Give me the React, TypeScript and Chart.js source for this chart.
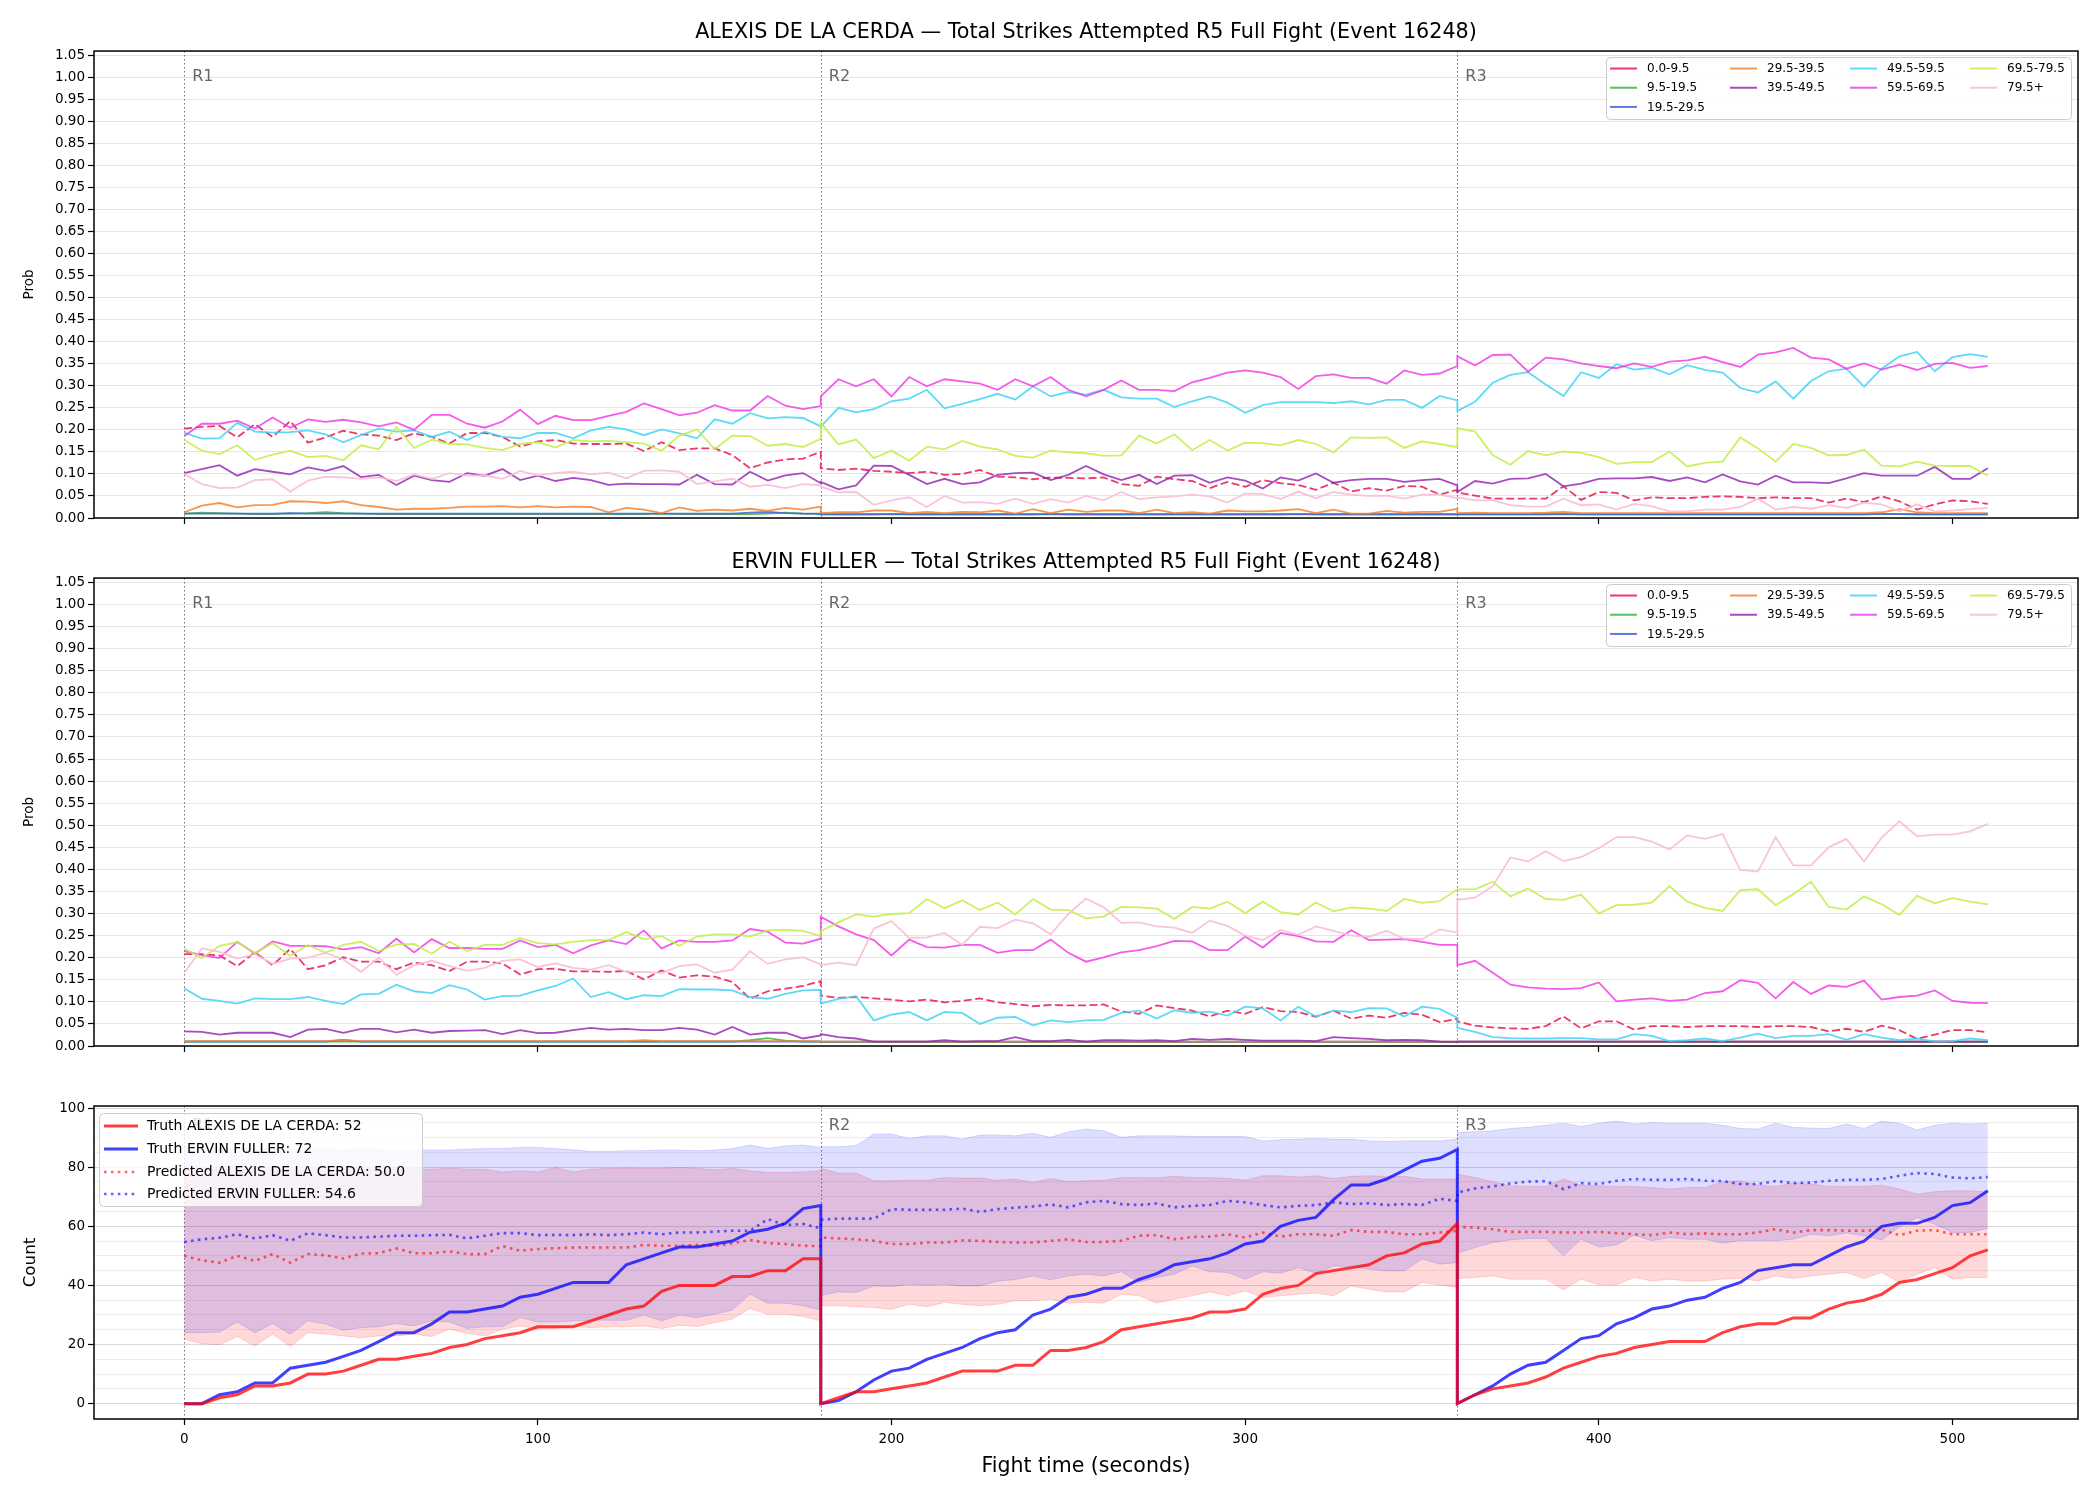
import React, { useEffect, useRef } from 'react';
import { Chart, registerables } from 'chart.js';

Chart.register(...registerables);
Chart.defaults.font.family = "'DejaVu Sans', 'Liberation Sans', sans-serif";
Chart.defaults.color = '#000';

// ---------------- data ----------------
const TIME = [
  0, 5, 10, 15, 20, 25, 30, 35, 40, 45, 50, 55, 60, 65, 70, 75, 80, 85, 90, 95, 100, 105, 110, 115, 120, 125, 130, 135, 140, 145, 150, 155, 160, 165, 170, 175, 180,
  180, 185, 190, 195, 200, 205, 210, 215, 220, 225, 230, 235, 240, 245, 250, 255, 260, 265, 270, 275, 280, 285, 290, 295, 300, 305, 310, 315, 320, 325, 330, 335, 340, 345, 350, 355, 360,
  360, 365, 370, 375, 380, 385, 390, 395, 400, 405, 410, 415, 420, 425, 430, 435, 440, 445, 450, 455, 460, 465, 470, 475, 480, 485, 490, 495, 500, 505, 510,
];

const FIGHTER_A = 'ALEXIS DE LA CERDA';
const FIGHTER_B = 'ERVIN FULLER';
const EVENT_ID = 16248;
const ROUND_STARTS = [0, 180, 360];
const ROUND_LABELS = ['R1', 'R2', 'R3'];

const BIN_LABELS = ['0.0-9.5', '9.5-19.5', '19.5-29.5', '29.5-39.5', '39.5-49.5', '49.5-59.5', '59.5-69.5', '69.5-79.5', '79.5+'];
const BIN_COLORS = [
  'rgba(230,25,75,0.85)', 'rgba(60,180,75,0.85)', 'rgba(67,99,216,0.85)', 'rgba(245,130,49,0.85)',
  'rgba(145,30,180,0.8)', 'rgba(66,212,244,0.85)', 'rgba(240,50,230,0.8)', 'rgba(191,239,69,0.85)', 'rgba(250,190,212,0.9)',
];

// ALEXIS probabilities per bin
const ALEXIS_B0 = [
  .203, .207, .209, .183, .213, .184, .220, .171, .183, .198, .190, .187, .177, .192, .184, .169, .193, .193, .184, .162, .174, .177, .169, .168, .168, .169, .152, .172, .154, .158, .158, .143, .113, .126, .133, .135, .150,
  .113, .109, .112, .107, .105, .102, .105, .098, .100, .109, .094, .092, .088, .092, .091, .090, .092, .077, .073, .094, .088, .084, .068, .082, .071, .086, .079, .075, .064, .080, .060, .068, .062, .073, .071, .053, .064,
  .058, .051, .044, .044, .044, .044, .072, .041, .059, .057, .040, .047, .045, .045, .048, .049, .048, .045, .047, .045, .045, .035, .044, .036, .049, .038, .019, .031, .040, .038, .032,
];
const ALEXIS_B1 = [
  .010, .012, .011, .010, .009, .009, .010, .011, .013, .011, .010, .009, .009, .009, .009, .009, .009, .009, .009, .009, .009, .009, .009, .009, .009, .009, .009, .010, .009, .009, .009, .009, .009, .010, .012, .010, .009,
  .008, .008, .008, .008, .009, .008, .008, .008, .008, .008, .008, .008, .008, .009, .008, .008, .008, .008, .008, .008, .008, .008, .008, .008, .008, .008, .008, .009, .008, .008, .008, .008, .008, .008, .008, .008, .008,
  .008, .008, .008, .008, .008, .008, .009, .008, .008, .008, .008, .008, .008, .008, .008, .008, .008, .008, .008, .008, .008, .008, .008, .008, .010, .009, .008, .008, .008, .008, .008,
];
const ALEXIS_B2 = [
  .010, .010, .010, .010, .010, .010, .011, .010, .010, .010, .010, .010, .010, .010, .010, .010, .010, .010, .010, .010, .010, .010, .010, .010, .010, .010, .010, .010, .010, .010, .010, .010, .012, .014, .011, .010, .010,
  .009, .009, .009, .009, .009, .009, .009, .009, .009, .009, .009, .009, .009, .009, .009, .009, .009, .009, .009, .009, .009, .009, .009, .009, .009, .009, .009, .009, .009, .009, .009, .009, .009, .009, .009, .009, .009,
  .009, .009, .009, .009, .009, .009, .009, .009, .009, .009, .009, .009, .009, .009, .009, .009, .009, .009, .009, .009, .009, .009, .009, .009, .009, .009, .009, .009, .009, .009, .009,
];
const ALEXIS_B3 = [
  .013, .028, .034, .024, .029, .030, .038, .037, .034, .038, .029, .025, .019, .021, .021, .023, .026, .026, .027, .024, .027, .024, .026, .025, .013, .023, .019, .011, .024, .016, .019, .017, .021, .016, .023, .019, .026,
  .011, .013, .013, .017, .017, .011, .014, .011, .014, .013, .017, .010, .020, .011, .019, .014, .017, .017, .011, .019, .011, .013, .010, .017, .015, .015, .017, .020, .011, .019, .010, .010, .016, .012, .014, .014, .021,
  .011, .012, .011, .011, .011, .012, .014, .011, .011, .011, .011, .011, .011, .011, .011, .011, .011, .011, .011, .011, .011, .011, .011, .011, .013, .020, .013, .011, .011, .011, .011,
];
const ALEXIS_B4 = [
  .102, .111, .120, .096, .111, .105, .099, .115, .107, .118, .093, .098, .075, .096, .086, .082, .102, .096, .111, .086, .096, .084, .091, .086, .075, .078, .077, .077, .076, .098, .077, .076, .105, .085, .097, .102, .079,
  .082, .065, .074, .119, .118, .098, .077, .089, .077, .081, .098, .102, .103, .086, .098, .118, .099, .086, .098, .077, .096, .097, .080, .092, .085, .067, .092, .085, .101, .080, .086, .089, .089, .082, .086, .089, .074,
  .059, .084, .078, .089, .090, .100, .072, .078, .089, .090, .090, .093, .084, .092, .081, .099, .083, .076, .096, .081, .081, .079, .090, .102, .096, .096, .096, .116, .089, .089, .113,
];
const ALEXIS_B5 = [
  .193, .180, .181, .216, .196, .194, .195, .199, .190, .172, .188, .203, .196, .199, .184, .196, .177, .196, .184, .181, .193, .193, .181, .199, .207, .201, .188, .201, .192, .181, .224, .214, .238, .226, .229, .227, .208,
  .207, .250, .240, .247, .265, .271, .291, .249, .259, .270, .282, .269, .299, .276, .286, .280, .291, .274, .271, .271, .252, .265, .276, .262, .239, .256, .263, .263, .263, .261, .265, .258, .268, .268, .250, .277, .267,
  .243, .264, .307, .325, .331, .303, .277, .331, .318, .349, .337, .341, .326, .347, .336, .330, .295, .285, .310, .271, .311, .333, .339, .298, .339, .367, .377, .333, .365, .372, .366,
];
const ALEXIS_B6 = [
  .186, .214, .214, .221, .203, .228, .205, .224, .218, .223, .217, .208, .217, .200, .234, .234, .214, .205, .219, .246, .213, .232, .222, .222, .232, .241, .260, .247, .233, .239, .256, .244, .244, .277, .255, .247, .254,
  .276, .315, .299, .315, .276, .320, .299, .315, .310, .305, .291, .315, .299, .320, .291, .276, .291, .312, .291, .291, .288, .308, .318, .330, .335, .330, .320, .293, .322, .326, .318, .318, .305, .335, .325, .328, .345,
  .367, .346, .370, .371, .332, .364, .360, .351, .345, .340, .351, .343, .355, .358, .366, .354, .343, .371, .376, .386, .364, .360, .339, .351, .337, .348, .336, .350, .352, .341, .345,
];
const ALEXIS_B7 = [
  .177, .153, .145, .165, .132, .144, .153, .138, .141, .131, .165, .156, .207, .159, .178, .168, .167, .159, .154, .168, .172, .160, .177, .174, .175, .172, .169, .153, .187, .201, .156, .187, .186, .164, .168, .161, .180,
  .216, .167, .178, .136, .153, .130, .162, .156, .175, .162, .156, .141, .137, .153, .149, .147, .141, .142, .187, .169, .190, .154, .177, .153, .171, .170, .165, .177, .168, .149, .183, .182, .183, .159, .174, .168, .161,
  .204, .196, .143, .121, .152, .142, .151, .148, .138, .123, .127, .127, .151, .117, .125, .128, .183, .158, .128, .168, .159, .142, .143, .155, .119, .117, .128, .119, .118, .118, .096,
];
const ALEXIS_B8 = [
  .100, .077, .068, .069, .086, .088, .060, .085, .094, .092, .089, .092, .084, .099, .089, .102, .096, .097, .089, .107, .097, .102, .105, .099, .103, .090, .107, .108, .105, .077, .083, .089, .071, .075, .068, .077, .074,
  .071, .058, .059, .030, .040, .047, .025, .050, .035, .036, .032, .044, .032, .043, .035, .050, .040, .059, .043, .047, .049, .053, .049, .035, .056, .054, .043, .060, .045, .059, .053, .050, .051, .044, .053, .053, .045,
  .047, .040, .040, .029, .026, .026, .044, .029, .031, .019, .032, .027, .015, .015, .019, .019, .025, .044, .019, .025, .021, .029, .023, .035, .031, .015, .031, .015, .017, .020, .023,
];

// ERVIN probabilities per bin
const ERVIN_B0 = [
  .208, .208, .205, .181, .212, .183, .220, .174, .183, .201, .191, .191, .174, .189, .183, .170, .191, .191, .187, .162, .174, .175, .169, .169, .168, .170, .151, .171, .155, .160, .157, .145, .107, .124, .130, .136, .147,
  .114, .109, .111, .108, .105, .101, .105, .099, .102, .108, .099, .095, .090, .093, .092, .092, .094, .078, .073, .092, .086, .080, .067, .080, .073, .088, .079, .077, .066, .080, .062, .069, .064, .075, .071, .054, .062,
  .056, .046, .042, .040, .039, .045, .067, .040, .056, .056, .037, .045, .045, .043, .045, .045, .045, .043, .045, .045, .043, .033, .039, .032, .046, .036, .016, .026, .036, .036, .031,
];
const ERVIN_B1 = [
  .010, .010, .010, .010, .010, .010, .010, .010, .010, .010, .010, .010, .010, .010, .010, .010, .010, .010, .010, .010, .010, .010, .010, .010, .010, .010, .010, .010, .010, .010, .010, .010, .013, .018, .012, .010, .010,
  .009, .009, .009, .009, .009, .009, .009, .009, .009, .009, .009, .009, .009, .009, .009, .009, .009, .009, .009, .009, .009, .009, .009, .009, .009, .009, .009, .009, .009, .009, .009, .009, .009, .009, .009, .009, .009,
  .009, .009, .009, .009, .009, .009, .009, .009, .009, .009, .009, .009, .009, .009, .009, .009, .009, .009, .009, .009, .009, .009, .009, .009, .009, .009, .009, .009, .009, .009, .009,
];
const ERVIN_B2 = [
  .010, .010, .010, .010, .010, .010, .010, .010, .010, .014, .010, .010, .010, .010, .010, .010, .010, .010, .010, .010, .010, .010, .010, .010, .010, .010, .010, .010, .010, .010, .010, .010, .010, .010, .010, .010, .010,
  .010, .010, .010, .010, .010, .010, .010, .010, .010, .010, .010, .010, .010, .010, .010, .010, .010, .010, .010, .010, .010, .010, .010, .010, .010, .010, .010, .010, .010, .010, .010, .010, .010, .010, .010, .010, .010,
  .010, .010, .010, .010, .010, .010, .010, .010, .010, .010, .010, .010, .010, .010, .010, .010, .010, .010, .010, .010, .010, .010, .010, .010, .010, .010, .010, .010, .010, .010, .010,
];
const ERVIN_B3 = [
  .011, .011, .011, .011, .011, .011, .011, .011, .011, .014, .011, .011, .011, .011, .011, .011, .011, .011, .011, .011, .011, .011, .011, .011, .011, .011, .013, .011, .011, .011, .011, .011, .011, .011, .011, .011, .011,
  .010, .010, .010, .010, .010, .010, .010, .010, .010, .010, .010, .010, .010, .010, .010, .010, .010, .010, .010, .010, .010, .010, .010, .010, .010, .010, .010, .010, .010, .010, .010, .010, .010, .010, .010, .010, .010,
  .010, .010, .010, .010, .010, .010, .010, .010, .010, .010, .010, .010, .010, .010, .010, .010, .010, .010, .010, .010, .010, .010, .010, .010, .010, .010, .010, .010, .010, .010, .010,
];
const ERVIN_B4 = [
  .033, .032, .026, .030, .030, .030, .020, .037, .039, .030, .039, .039, .031, .037, .030, .034, .035, .036, .027, .036, .029, .030, .036, .041, .037, .039, .036, .036, .041, .037, .026, .043, .026, .030, .030, .017, .024,
  .027, .020, .017, .010, .010, .010, .010, .013, .010, .011, .011, .020, .011, .011, .014, .010, .013, .013, .012, .013, .011, .016, .014, .016, .014, .012, .012, .012, .011, .020, .018, .016, .013, .014, .013, .010, .009,
  .010, .010, .010, .010, .010, .010, .010, .010, .010, .010, .010, .010, .010, .010, .010, .010, .010, .010, .010, .010, .010, .010, .010, .010, .010, .010, .010, .010, .010, .010, .010,
];
const ERVIN_B5 = [
  .131, .107, .102, .096, .108, .106, .106, .111, .102, .095, .117, .118, .139, .124, .120, .138, .128, .105, .113, .114, .126, .136, .153, .111, .122, .106, .115, .113, .129, .128, .128, .126, .111, .107, .118, .126, .127,
  .096, .107, .113, .058, .071, .077, .058, .077, .075, .050, .064, .066, .047, .058, .054, .058, .059, .075, .080, .062, .081, .075, .078, .069, .089, .085, .058, .089, .067, .080, .077, .086, .085, .067, .089, .084, .064,
  .041, .032, .020, .018, .017, .017, .018, .018, .015, .015, .027, .023, .011, .013, .017, .011, .019, .028, .018, .023, .023, .027, .014, .027, .019, .013, .017, .010, .011, .017, .013,
];
const ERVIN_B6 = [
  .215, .206, .199, .236, .209, .237, .227, .227, .226, .219, .224, .210, .243, .212, .242, .222, .222, .220, .220, .239, .224, .229, .210, .228, .239, .231, .262, .221, .239, .236, .236, .239, .265, .259, .234, .232, .243,
  .293, .271, .253, .240, .205, .241, .224, .223, .229, .229, .211, .217, .217, .241, .211, .191, .201, .212, .217, .226, .238, .237, .217, .217, .248, .223, .256, .249, .237, .236, .262, .240, .241, .242, .236, .229, .229,
  .183, .193, .166, .139, .133, .130, .129, .131, .144, .101, .105, .108, .102, .105, .120, .124, .149, .143, .108, .145, .118, .137, .134, .148, .105, .111, .114, .126, .102, .098, .097,
];
const ERVIN_B7 = [
  .221, .199, .227, .235, .211, .233, .204, .229, .211, .229, .236, .215, .230, .231, .209, .236, .215, .229, .229, .245, .233, .230, .236, .240, .240, .258, .242, .249, .227, .248, .253, .253, .248, .262, .263, .261, .249,
  .260, .280, .298, .293, .299, .301, .333, .312, .330, .308, .325, .298, .333, .309, .308, .289, .293, .315, .314, .311, .288, .315, .311, .327, .301, .327, .303, .298, .325, .305, .314, .311, .306, .333, .324, .328, .355,
  .355, .355, .372, .339, .357, .333, .331, .343, .300, .319, .320, .325, .362, .327, .313, .306, .353, .355, .319, .344, .372, .315, .309, .339, .321, .297, .340, .323, .335, .327, .321,
];
const ERVIN_B8 = [
  .166, .221, .213, .198, .208, .186, .198, .200, .211, .196, .168, .200, .161, .183, .193, .181, .170, .177, .193, .196, .179, .187, .177, .173, .183, .168, .168, .165, .181, .185, .166, .173, .215, .186, .196, .201, .185,
  .183, .189, .183, .266, .283, .245, .246, .256, .229, .270, .267, .286, .278, .253, .299, .334, .314, .279, .280, .271, .268, .256, .284, .272, .250, .240, .263, .252, .271, .261, .250, .247, .261, .243, .242, .264, .257,
  .331, .336, .362, .427, .418, .441, .419, .428, .448, .473, .473, .463, .445, .477, .469, .480, .399, .395, .473, .409, .409, .450, .469, .418, .472, .509, .475, .479, .479, .486, .503,
];

// counts
const TRUTH_ALEXIS = [
  0, 0, 2, 3, 6, 6, 7, 10, 10, 11, 13, 15, 15, 16, 17, 19, 20, 22, 23, 24, 26, 26, 26, 28, 30, 32, 33, 38, 40, 40, 40, 43, 43, 45, 45, 49, 49,
  0, 2, 4, 4, 5, 6, 7, 9, 11, 11, 11, 13, 13, 18, 18, 19, 21, 25, 26, 27, 28, 29, 31, 31, 32, 37, 39, 40, 44, 45, 46, 47, 50, 51, 54, 55, 61,
  0, 3, 5, 6, 7, 9, 12, 14, 16, 17, 19, 20, 21, 21, 21, 24, 26, 27, 27, 29, 29, 32, 34, 35, 37, 41, 42, 44, 46, 50, 52,
];
const TRUTH_ERVIN = [
  0, 0, 3, 4, 7, 7, 12, 13, 14, 16, 18, 21, 24, 24, 27, 31, 31, 32, 33, 36, 37, 39, 41, 41, 41, 47, 49, 51, 53, 53, 54, 55, 58, 59, 61, 66, 67,
  0, 1, 4, 8, 11, 12, 15, 17, 19, 22, 24, 25, 30, 32, 36, 37, 39, 39, 42, 44, 47, 48, 49, 51, 54, 55, 60, 62, 63, 69, 74, 74, 76, 79, 82, 83, 86,
  0, 3, 6, 10, 13, 14, 18, 22, 23, 27, 29, 32, 33, 35, 36, 39, 41, 45, 46, 47, 47, 50, 53, 55, 60, 61, 61, 63, 67, 68, 72,
];
const PRED_ALEXIS = [
  50.0, 48.5, 47.7, 50.0, 48.3, 50.6, 47.7, 50.6, 50.2, 49.1, 50.8, 50.9, 52.5, 50.9, 50.9, 51.5, 50.6, 50.6, 53.3, 51.7, 52.3, 52.6, 52.8, 52.8, 52.8, 52.8, 53.7, 53.4, 53.4, 53.7, 53.4, 54.2, 55.4, 54.3, 54.0, 53.4, 53.3,
  56.2, 55.9, 55.6, 55.1, 54.0, 54.0, 54.5, 54.5, 55.2, 55.1, 54.7, 54.5, 54.5, 55.1, 55.6, 54.7, 54.7, 55.1, 56.8, 57.0, 55.6, 56.4, 56.5, 57.3, 56.2, 57.9, 56.5, 57.3, 57.3, 56.8, 58.7, 58.1, 58.1, 57.3, 57.3, 57.9, 58.5,
  59.8, 59.6, 59.0, 58.1, 58.1, 58.1, 57.9, 57.9, 58.1, 57.7, 57.3, 57.0, 57.9, 57.3, 57.6, 57.3, 57.3, 57.9, 59.0, 57.9, 58.7, 58.7, 58.5, 58.5, 58.8, 57.0, 58.5, 58.7, 57.3, 57.3, 57.3,
];
const PRED_ERVIN = [
  54.7, 55.6, 56.1, 57.3, 55.9, 57.0, 55.1, 57.6, 57.0, 56.2, 56.2, 56.5, 56.8, 56.8, 57.0, 57.1, 55.9, 56.8, 57.7, 57.7, 57.0, 57.1, 57.0, 57.3, 57.0, 57.3, 57.9, 57.3, 57.9, 57.9, 58.2, 58.5, 58.5, 62.4, 60.4, 60.8, 59.3,
  62.2, 62.6, 62.6, 62.6, 65.8, 65.6, 65.6, 65.6, 66.0, 64.9, 65.8, 66.3, 66.7, 67.4, 66.4, 68.1, 68.6, 67.5, 67.2, 67.7, 66.4, 66.9, 67.2, 68.6, 68.1, 67.2, 66.4, 66.9, 67.2, 68.1, 67.5, 67.8, 67.2, 67.5, 67.2, 69.3, 68.6,
  71.4, 72.8, 73.5, 74.5, 75.1, 75.3, 72.6, 74.6, 74.3, 75.4, 76.0, 75.7, 75.7, 76.0, 75.4, 75.3, 74.3, 74.3, 75.3, 74.6, 74.8, 75.4, 75.7, 75.7, 76.0, 77.1, 78.0, 77.7, 76.5, 76.2, 76.7,
];
const ERVIN_HI = [
  87.2, 87.0, 86.6, 86.4, 86.1, 86.1, 86.3, 86.0, 86.1, 85.8, 86.1, 85.9, 85.6, 85.8, 85.8, 85.8, 86.1, 86.3, 86.3, 86.7, 86.7, 86.3, 85.9, 85.3, 85.3, 85.6, 85.6, 85.8, 85.8, 85.6, 85.8, 86.3, 87.5, 86.3, 87.2, 87.5, 86.7,
  86.9, 86.9, 87.3, 91.2, 91.2, 89.7, 90.6, 90.6, 89.5, 90.9, 90.9, 90.6, 91.5, 90.1, 92.0, 92.9, 92.3, 90.1, 90.6, 90.6, 90.6, 90.4, 90.4, 90.4, 90.4, 88.9, 89.3, 89.5, 89.7, 89.5, 89.5, 88.9, 88.7, 88.9, 88.9, 88.9, 89.5,
  91.8, 92.0, 92.3, 93.1, 93.5, 94.2, 94.9, 93.8, 94.9, 95.6, 94.6, 95.1, 94.9, 94.9, 94.9, 94.2, 93.1, 92.9, 94.9, 93.5, 93.2, 93.1, 94.6, 93.1, 95.6, 94.9, 92.6, 94.2, 94.9, 94.6, 94.9,
];
const ERVIN_LO = [
  24.0, 24.0, 24.2, 27.6, 24.0, 27.1, 23.5, 28.0, 26.9, 24.8, 25.7, 26.0, 27.1, 26.3, 28.0, 27.6, 25.4, 26.0, 26.0, 29.1, 27.6, 27.6, 28.0, 28.2, 28.2, 28.2, 29.9, 28.0, 29.9, 29.1, 30.2, 31.7, 37.0, 34.0, 34.0, 33.1, 31.7,
  36.5, 37.8, 37.6, 39.8, 39.6, 40.4, 40.1, 40.4, 39.8, 39.8, 41.4, 42.0, 43.2, 41.9, 43.2, 43.8, 43.2, 44.6, 41.0, 42.7, 43.8, 46.6, 44.6, 44.4, 42.1, 44.6, 44.1, 46.0, 44.1, 46.6, 46.3, 45.5, 44.9, 44.9, 48.9, 47.2, 47.7,
  50.9, 52.8, 54.5, 55.4, 55.9, 55.9, 50.0, 55.6, 53.0, 53.7, 57.0, 55.1, 56.2, 55.6, 55.6, 54.3, 55.1, 55.1, 55.1, 55.6, 57.3, 56.8, 57.7, 56.8, 55.4, 59.8, 63.0, 60.7, 57.9, 57.9, 59.3,
];
const ALEXIS_HI = [
  79.1, 79.3, 79.3, 79.1, 79.1, 79.3, 79.3, 79.3, 79.3, 79.3, 79.3, 79.6, 79.9, 79.3, 79.3, 79.7, 79.3, 79.3, 78.4, 78.8, 78.4, 79.9, 78.4, 79.3, 79.6, 79.7, 79.6, 79.6, 79.9, 79.6, 79.1, 79.6, 78.8, 78.2, 78.2, 78.4, 78.8,
  79.6, 78.0, 78.0, 75.4, 75.4, 75.6, 75.6, 76.5, 76.3, 76.3, 75.6, 76.0, 74.8, 76.2, 75.1, 75.4, 75.6, 76.5, 76.5, 76.4, 76.9, 76.5, 76.5, 76.2, 75.6, 77.1, 77.1, 76.7, 77.1, 76.2, 76.9, 77.1, 76.9, 76.9, 76.0, 76.0, 76.0,
  77.7, 76.5, 75.1, 73.7, 73.5, 73.5, 76.0, 73.9, 73.7, 73.5, 73.5, 73.1, 72.6, 73.1, 73.1, 75.1, 75.4, 73.9, 73.5, 74.6, 74.3, 73.5, 73.5, 73.5, 73.9, 72.6, 70.9, 71.7, 72.0, 72.0, 71.7,
];
const ALEXIS_LO = [
  21.8, 20.3, 19.9, 22.7, 19.5, 23.5, 19.3, 24.0, 23.5, 22.9, 22.3, 22.9, 22.9, 23.5, 22.7, 25.2, 23.8, 22.9, 25.2, 26.3, 25.2, 25.4, 26.1, 25.7, 26.0, 26.0, 26.3, 25.4, 26.5, 26.1, 27.4, 28.6, 32.2, 30.2, 30.2, 29.5, 28.0,
  33.1, 33.1, 32.8, 32.5, 31.9, 33.6, 32.8, 34.2, 33.6, 33.1, 33.6, 34.8, 34.8, 35.3, 34.0, 34.2, 34.0, 37.0, 36.5, 34.0, 35.3, 36.5, 37.8, 36.5, 38.1, 35.9, 36.5, 37.0, 37.4, 36.5, 39.8, 38.7, 37.8, 37.8, 41.0, 40.1, 39.3,
  42.3, 42.7, 43.2, 42.1, 42.1, 42.1, 38.5, 42.1, 40.2, 40.1, 42.7, 41.5, 42.1, 41.5, 41.5, 42.1, 42.3, 41.5, 43.2, 42.3, 43.2, 43.8, 44.4, 42.3, 44.4, 41.0, 43.8, 46.0, 42.1, 42.7, 42.7,
];

const COUNT_LEGEND = [
  `Truth ${FIGHTER_A}: 52`,
  `Truth ${FIGHTER_B}: 72`,
  `Predicted ${FIGHTER_A}: 50.0`,
  `Predicted ${FIGHTER_B}: 54.6`,
];

const ALEXIS_BINS = [ALEXIS_B0, ALEXIS_B1, ALEXIS_B2, ALEXIS_B3, ALEXIS_B4, ALEXIS_B5, ALEXIS_B6, ALEXIS_B7, ALEXIS_B8];
const ERVIN_BINS = [ERVIN_B0, ERVIN_B1, ERVIN_B2, ERVIN_B3, ERVIN_B4, ERVIN_B5, ERVIN_B6, ERVIN_B7, ERVIN_B8];

// ---------------- helpers ----------------
const pts = (arr: number[]) => TIME.map((t, i) => ({ x: t, y: arr[i] }));

const TICK_FONT = { size: 13.5 };

function roundRectPath(ctx: any, x: number, y: number, w: number, h: number, r: number) {
  ctx.beginPath();
  ctx.moveTo(x + r, y);
  ctx.lineTo(x + w - r, y);
  ctx.arcTo(x + w, y, x + w, y + r, r);
  ctx.lineTo(x + w, y + h - r);
  ctx.arcTo(x + w, y + h, x + w - r, y + h, r);
  ctx.lineTo(x + r, y + h);
  ctx.arcTo(x, y + h, x, y + h - r, r);
  ctx.lineTo(x, y + r);
  ctx.arcTo(x, y, x + r, y, r);
  ctx.closePath();
}

function framePlugin() {
  return {
    id: 'frame',
    afterDatasetsDraw(chart: any) {
      const { ctx, chartArea: a } = chart;
      ctx.save();
      ctx.strokeStyle = '#000';
      ctx.lineWidth = 1.5;
      ctx.strokeRect(a.left, a.top, a.right - a.left, a.bottom - a.top);
      ctx.restore();
    },
  };
}

function roundPlugin(labelDy: number) {
  return {
    id: 'roundMarks',
    beforeDatasetsDraw(chart: any) {
      const { ctx, chartArea: a, scales } = chart;
      ctx.save();
      ctx.strokeStyle = 'rgba(70,70,70,0.75)';
      ctx.lineWidth = 1;
      ctx.setLineDash([1.5, 2.5]);
      ROUND_STARTS.forEach((t) => {
        const px = Math.round(scales.x.getPixelForValue(t)) + 0.5;
        ctx.beginPath();
        ctx.moveTo(px, a.top);
        ctx.lineTo(px, a.bottom);
        ctx.stroke();
      });
      ctx.restore();
    },
    afterDatasetsDraw(chart: any) {
      const { ctx, chartArea: a, scales } = chart;
      ctx.save();
      ctx.fillStyle = 'rgba(85,85,85,0.9)';
      ctx.font = "16px 'DejaVu Sans'";
      ctx.textBaseline = 'middle';
      ctx.textAlign = 'left';
      ROUND_STARTS.forEach((t, i) => {
        const px = scales.x.getPixelForValue(t);
        ctx.fillText(ROUND_LABELS[i], px + 8, a.top + labelDy);
      });
      ctx.restore();
    },
  };
}

function placeColumnMajor(n: number, ncol: number) {
  const nrow = Math.ceil(n / ncol);
  const extra = n % ncol === 0 ? ncol : n % ncol;
  const out: number[][] = [];
  let c = 0;
  let r = 0;
  for (let k = 0; k < n; k++) {
    out.push([c, r]);
    r++;
    const rowsInCol = c < extra ? nrow : nrow - 1;
    if (r >= rowsInCol) {
      r = 0;
      c++;
    }
  }
  return out;
}

function legendPlugin(cfg: any) {
  return {
    id: 'boxLegend',
    afterDraw(chart: any) {
      const { ctx, chartArea: a } = chart;
      const left = cfg.anchorRight ? a.right - cfg.inset[0] - cfg.w : a.left + cfg.inset[0];
      const top = a.top + cfg.inset[1];
      ctx.save();
      roundRectPath(ctx, left + 0.5, top + 0.5, cfg.w, cfg.h, 4);
      ctx.fillStyle = 'rgba(255,255,255,0.8)';
      ctx.fill();
      ctx.strokeStyle = '#cccccc';
      ctx.lineWidth = 1;
      ctx.stroke();
      ctx.font = `${cfg.fontSize}px 'DejaVu Sans'`;
      ctx.textBaseline = 'middle';
      ctx.textAlign = 'left';
      const place = placeColumnMajor(cfg.items.length, cfg.ncol);
      cfg.items.forEach((it: any, k: number) => {
        const [c, r] = place[k];
        const lx = left + cfg.colX[c];
        const y = top + cfg.rowY[r];
        ctx.beginPath();
        ctx.setLineDash(it.dash || []);
        ctx.lineWidth = it.width;
        ctx.strokeStyle = it.color;
        ctx.moveTo(lx, y);
        ctx.lineTo(lx + cfg.lineLen, y);
        ctx.stroke();
        ctx.setLineDash([]);
        ctx.fillStyle = '#000';
        ctx.fillText(it.label, lx + cfg.textDx, y + 0.5);
      });
      ctx.restore();
    },
  };
}

function xScale(showLabels: boolean, height: number) {
  return {
    type: 'linear',
    min: -25.5,
    max: 535.5,
    ticks: { display: showLabels, stepSize: 100, includeBounds: false, autoSkip: false, maxRotation: 0, font: TICK_FONT, color: '#000', padding: 6 },
    grid: { drawOnChartArea: false, drawTicks: true, tickLength: 6, tickColor: '#000', tickWidth: 1.2 },
    border: { display: false },
    title: showLabels
      ? { display: true, text: 'Fight time (seconds)', font: { size: 20.5 }, color: '#000', padding: { top: 0, bottom: 21.5 } }
      : { display: false },
    afterFit: (s: any) => {
      s.height = height;
    },
  };
}

function probConfig(fighter: string, bins: number[][], titlePad: { top: number; bottom: number }, xAxisH: number) {
  const datasets = BIN_LABELS.map((lab, i) => ({
    label: lab,
    data: pts(bins[i]),
    borderColor: BIN_COLORS[i],
    backgroundColor: BIN_COLORS[i],
    borderWidth: 1.8,
    borderDash: i === 0 ? [8, 3.5] : [],
    pointRadius: 0,
    pointHoverRadius: 0,
    fill: false,
    tension: 0,
    order: 20 - i,
  }));
  const legendItems = BIN_LABELS.map((lab, i) => ({ label: lab, color: BIN_COLORS[i], width: 2 }));
  return {
    type: 'line',
    data: { datasets },
    options: {
      responsive: false,
      animation: false,
      events: [],
      layout: { padding: { left: 0, right: 22, top: 0, bottom: 0 } },
      plugins: {
        legend: { display: false },
        tooltip: { enabled: false },
        title: {
          display: true,
          fullSize: false,
          text: `${fighter} — Total Strikes Attempted R5 Full Fight (Event ${EVENT_ID})`,
          font: { size: 20.7, weight: 'normal' },
          color: '#000',
          padding: titlePad,
        },
      },
      scales: {
        x: xScale(false, xAxisH),
        y: {
          min: 0,
          max: 1.06,
          ticks: { stepSize: 0.05, includeBounds: false, autoSkip: false, font: TICK_FONT, color: '#000', padding: 3, callback: (v: any) => Number(v).toFixed(2) },
          grid: { color: 'rgba(0,0,0,0.1)', lineWidth: 1, tickColor: '#000', tickLength: 6, tickWidth: 1.2 },
          border: { display: false },
          title: { display: true, text: 'Prob', font: { size: 13.5 }, color: '#000', padding: { top: 21, bottom: 0 } },
          afterFit: (s: any) => {
            s.width = 94;
          },
        },
      },
    },
    plugins: [
      roundPlugin(25.5),
      framePlugin(),
      legendPlugin({
        anchorRight: true,
        inset: [7, 6],
        w: 465,
        h: 62,
        ncol: 4,
        colX: [4, 124, 244, 364],
        rowY: [11.5, 30.7, 49.9],
        lineLen: 27,
        textDx: 37,
        fontSize: 12,
        items: legendItems,
      }),
    ],
  };
}

function countConfig() {
  const redLine = 'rgba(255,0,0,0.75)';
  const blueLine = 'rgba(0,0,255,0.75)';
  const redDot = 'rgba(255,0,0,0.6)';
  const blueDot = 'rgba(0,0,255,0.6)';
  const base = { pointRadius: 0, pointHoverRadius: 0, tension: 0 };
  const datasets: any[] = [
    { ...base, label: COUNT_LEGEND[0], data: pts(TRUTH_ALEXIS), borderColor: redLine, borderWidth: 3, fill: false },
    { ...base, label: COUNT_LEGEND[1], data: pts(TRUTH_ERVIN), borderColor: blueLine, borderWidth: 3, fill: false },
    { ...base, label: COUNT_LEGEND[2], data: pts(PRED_ALEXIS), borderColor: redDot, borderWidth: 2.6, borderDash: [2.6, 4.3], fill: false },
    { ...base, label: COUNT_LEGEND[3], data: pts(PRED_ERVIN), borderColor: blueDot, borderWidth: 2.6, borderDash: [2.6, 4.3], fill: false },
    { ...base, label: 'ervin_hi', data: pts(ERVIN_HI), borderColor: 'rgba(0,0,255,0.13)', borderWidth: 1, fill: false },
    { ...base, label: 'ervin_lo', data: pts(ERVIN_LO), borderColor: 'rgba(0,0,255,0.13)', borderWidth: 1, fill: 4, backgroundColor: 'rgba(0,0,255,0.13)' },
    { ...base, label: 'alexis_hi', data: pts(ALEXIS_HI), borderColor: 'rgba(255,0,0,0.15)', borderWidth: 1, fill: false },
    { ...base, label: 'alexis_lo', data: pts(ALEXIS_LO), borderColor: 'rgba(255,0,0,0.15)', borderWidth: 1, fill: 6, backgroundColor: 'rgba(255,0,0,0.15)' },
  ];
  return {
    type: 'line',
    data: { datasets },
    options: {
      responsive: false,
      animation: false,
      events: [],
      layout: { padding: { left: 0, right: 22, top: 36, bottom: 0 } },
      plugins: {
        legend: { display: false },
        tooltip: { enabled: false },
        filler: { propagate: false },
      },
      scales: {
        x: xScale(true, 81),
        y: {
          min: -5.2,
          max: 100.7,
          ticks: {
            stepSize: 5,
            includeBounds: false,
            autoSkip: false,
            font: TICK_FONT,
            color: '#000',
            padding: 3,
            callback: (v: any) => (Number(v) % 20 === 0 ? String(v) : ''),
          },
          grid: {
            color: (c: any) => (c.tick && c.tick.value % 20 === 0 ? 'rgba(0,0,0,0.15)' : 'rgba(0,0,0,0.07)'),
            tickColor: (c: any) => (c.tick && c.tick.value % 20 === 0 ? '#000' : 'rgba(0,0,0,0)'),
            tickLength: 6,
            tickWidth: 1.2,
            lineWidth: 1,
          },
          border: { display: false },
          title: { display: true, text: 'Count', font: { size: 16.7 }, color: '#000', padding: { top: 21, bottom: 0 } },
          afterFit: (s: any) => {
            s.width = 94;
          },
        },
      },
    },
    plugins: [
      roundPlugin(19.5),
      framePlugin(),
      legendPlugin({
        anchorRight: false,
        inset: [5, 7],
        w: 323,
        h: 93,
        ncol: 1,
        colX: [5],
        rowY: [13, 36, 59, 81],
        lineLen: 34,
        textDx: 43,
        fontSize: 14,
        items: [
          { label: COUNT_LEGEND[0], color: redLine, width: 3 },
          { label: COUNT_LEGEND[1], color: blueLine, width: 3 },
          { label: COUNT_LEGEND[2], color: redDot, width: 2.6, dash: [2.6, 4.3] },
          { label: COUNT_LEGEND[3], color: blueDot, width: 2.6, dash: [2.6, 4.3] },
        ],
      }),
    ],
  };
}

export default function App() {
  const c1 = useRef<HTMLCanvasElement>(null);
  const c2 = useRef<HTMLCanvasElement>(null);
  const c3 = useRef<HTMLCanvasElement>(null);

  useEffect(() => {
    const charts: any[] = [];
    if (c1.current) charts.push(new Chart(c1.current, probConfig(FIGHTER_A, ALEXIS_BINS, { top: 20.0, bottom: 6.2 }, 22) as any));
    if (c2.current) charts.push(new Chart(c2.current, probConfig(FIGHTER_B, ERVIN_BINS, { top: 9.7, bottom: 3.5 }, 24) as any));
    if (c3.current) charts.push(new Chart(c3.current, countConfig() as any));
    return () => charts.forEach((c) => c.destroy());
  }, []);

  const cs = (top: number, h: number): React.CSSProperties => ({ position: 'absolute', left: 0, top, width: 2100, height: h, display: 'block' });

  return (
    <div style={{ position: 'absolute', left: 0, top: 0, width: 2100, height: 1500, background: '#fff', overflow: 'hidden' }}>
      <canvas ref={c1} width={2100} height={540} style={cs(0, 540)} />
      <canvas ref={c2} width={2100} height={530} style={cs(540, 530)} />
      <canvas ref={c3} width={2100} height={430} style={cs(1070, 430)} />
    </div>
  );
}
